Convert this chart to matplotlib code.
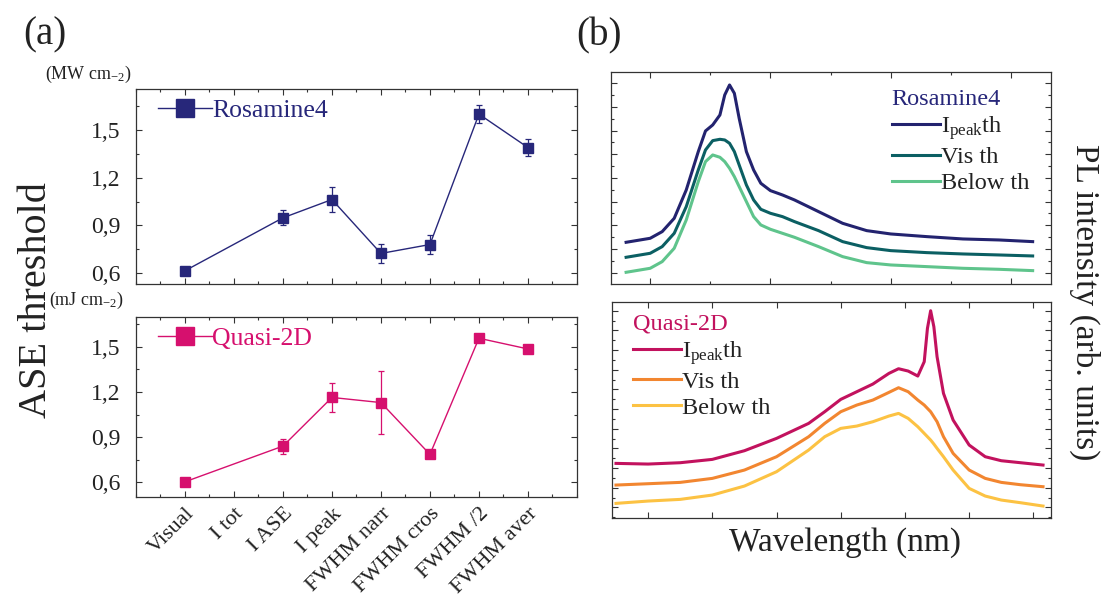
import matplotlib
matplotlib.use('Agg')
import matplotlib.pyplot as plt
from matplotlib.ticker import MultipleLocator, FixedLocator, FuncFormatter
from matplotlib.lines import Line2D

plt.rcParams['font.family'] = ['Liberation Serif', 'DejaVu Serif']
plt.rcParams['mathtext.fontset'] = 'custom'
plt.rcParams['mathtext.rm'] = 'Liberation Serif'
plt.rcParams['mathtext.it'] = 'Liberation Serif:italic'

# ---------------- data (a) ----------------
categories = ['Visual', 'I tot', 'I ASE', 'I peak', 'FWHM narr', 'FWHM cros', 'FWHM /2', 'FWHM aver']
point_cats = ['Visual', 'I ASE', 'I peak', 'FWHM narr', 'FWHM cros', 'FWHM /2', 'FWHM aver']
ros_vals = [0.615, 0.948, 1.063, 0.724, 0.780, 1.600, 1.390]
ros_err = [0.0, 0.047, 0.080, 0.060, 0.057, 0.056, 0.053]
q2d_vals = [0.604, 0.841, 1.164, 1.130, 0.786, 1.557, 1.486]
q2d_err = [0.0, 0.050, 0.095, 0.210, 0.015, 0.0, 0.0]
yticks_a = [0.6, 0.9, 1.2, 1.5]

# ---------------- data (b) ----------------
ros_wl = [540, 550, 555, 560, 565, 570, 573, 576, 579, 581, 583, 585, 587, 590,
          593, 596, 600, 605, 610, 620, 630, 640, 650, 665, 680, 695, 709]
ros_ipeak = [162, 174, 194, 234, 319, 434, 496, 514, 544, 604, 634, 609, 534, 434,
             379, 339, 317, 304, 289, 254, 219, 197, 187, 179, 172, 169, 164]
ros_vis = [117, 129, 149, 189, 269, 379, 439, 467, 471, 469, 459, 434, 394, 334,
           289, 261, 249, 239, 224, 197, 164, 146, 137, 131, 127, 124, 121]
ros_below = [72, 84, 104, 144, 229, 344, 404, 424, 417, 404, 384, 359, 329, 284,
             239, 214, 201, 189, 177, 149, 119, 101, 94, 89, 84, 81, 77]

q2d_wl = [430, 440, 450, 460, 470, 480, 490, 495, 500, 505, 510, 515, 518, 521,
          524, 526, 527, 528, 529, 530, 532, 535, 540, 545, 550, 556, 563]
q2d_ipeak = [191, 189, 193, 203, 229, 266, 311, 346, 383, 406, 429, 461, 475, 468,
             453, 496, 596, 649, 601, 511, 401, 321, 246, 211, 199, 193, 186]
q2d_vis = [126, 130, 134, 146, 171, 211, 271, 311, 346, 366, 381, 404, 418, 406,
           381, 366, 356, 346, 331, 316, 271, 221, 171, 146, 134, 127, 121]
q2d_below = [71, 78, 83, 96, 123, 166, 231, 271, 296, 303, 316, 333, 341, 326,
             301, 281, 271, 261, 249, 236, 211, 171, 116, 93, 81, 73, 63]

NAVY = '#27277a'
MAGENTA = '#d6106e'
C_ROS = ['#23236f', '#0b5f63', '#5fc48c']
C_Q2D = ['#c2125e', '#f28630', '#fcc243']
SPINE = '#333333'

fig = plt.figure(figsize=(11.08, 5.97), dpi=100)

def style_axes(ax):
    for s in ax.spines.values():
        s.set_linewidth(0.9)
        s.set_color(SPINE)
    ax.tick_params(which='both', direction='in', top=True, right=True, color=SPINE)
    ax.tick_params(which='major', length=4, width=0.8)
    ax.tick_params(which='minor', length=2.5, width=0.8)

comma = FuncFormatter(lambda v, p: ('%.1f' % v).replace('.', ','))
x_pts = [categories.index(c) for c in point_cats]

ax1 = fig.add_axes([0.1227, 0.5238, 0.398, 0.3266])
ax2 = fig.add_axes([0.1227, 0.1667, 0.398, 0.3028])

for ax, vals, err, col, lab, ylim, anc in [
        (ax1, ros_vals, ros_err, NAVY, 'Rosamine4', (0.53, 1.756), (0.05, 0.95)),
        (ax2, q2d_vals, q2d_err, MAGENTA, 'Quasi-2D', (0.5, 1.7), (0.05, 0.945))]:
    ax.errorbar(x_pts, vals, yerr=err, fmt='s-', color=col, ms=7, lw=1.0,
                elinewidth=0.9, capsize=2.5, capthick=0.9)
    ax.set_xlim(-1, 8)
    ax.set_ylim(*ylim)
    ax.xaxis.set_major_locator(FixedLocator(list(range(len(categories)))))
    ax.xaxis.set_minor_locator(MultipleLocator(0.5))
    ax.yaxis.set_major_locator(FixedLocator(yticks_a))
    ax.yaxis.set_minor_locator(MultipleLocator(0.15))
    ax.yaxis.set_major_formatter(comma)
    style_axes(ax)
    ax.tick_params(axis='y', labelsize=17, pad=11, labelcolor='#222222')
    h = Line2D([], [], color=col, marker='s', ms=13, lw=1.0)
    leg = ax.legend([h], [lab], loc='upper left', bbox_to_anchor=anc,
                    frameon=False, fontsize=18.5, handlelength=2.1, handletextpad=0.02,
                    borderpad=0, borderaxespad=0)
    for t in leg.get_texts():
        t.set_color(col)

ax1.tick_params(axis='x', labelbottom=False)
ax2.set_xticks(range(len(categories)))
ax2.set_xticklabels(categories, rotation=45, ha='right', va='top',
                    rotation_mode='anchor', fontsize=16, color='#222222')
ax2.tick_params(axis='x', pad=5)

fig.text(0.0406, 0.9414, '(a)', fontsize=28, ha='center', va='center', color='#222222')
fig.text(0.5406, 0.9397, '(b)', fontsize=28, ha='center', va='center', color='#222222')
fig.text(0.033, 0.497, 'ASE threshold', fontsize=29, rotation=90, ha='center', va='center', color='#222222')
fig.text(0.119, 0.876, r'(MW cm$_{\mathregular{-2}}$)', fontsize=13, ha='right', va='center', color='#222222')
fig.text(0.112, 0.496, r'(mJ cm$_{\mathregular{-2}}$)', fontsize=13, ha='right', va='center', color='#222222')

# ---------------- (b) ----------------
ax3 = fig.add_axes([0.5514, 0.5238, 0.3971, 0.3551])
ax4 = fig.add_axes([0.5519, 0.1328, 0.3967, 0.3618])

lbls = [r'I$_{\mathregular{peak}}$th', 'Vis th', 'Below th']
for ys, c, l in zip([ros_ipeak, ros_vis, ros_below], C_ROS, lbls):
    ax3.plot(ros_wl, ys, color=c, lw=2.2, label=l)
ax3.set_xlim(533.7, 716.6)
ax3.set_ylim(36, 672)
ax3.xaxis.set_major_locator(MultipleLocator(50))
ax3.xaxis.set_minor_locator(MultipleLocator(25))
ax3.yaxis.set_major_locator(MultipleLocator(71))
ax3.yaxis.set_minor_locator(MultipleLocator(35.5))

for ys, c, l in zip([q2d_ipeak, q2d_vis, q2d_below], C_Q2D, lbls):
    ax4.plot(q2d_wl, ys, color=c, lw=2.2, label=l)
ax4.set_xlim(428.6, 565.5)
ax4.set_ylim(28, 676)
ax4.xaxis.set_major_locator(MultipleLocator(20))
ax4.yaxis.set_major_locator(MultipleLocator(59))
ax4.yaxis.set_minor_locator(MultipleLocator(29.5))

for ax, title, tcol, anchor in [(ax3, 'Rosamine4', NAVY, (0.638, 0.92)),
                                (ax4, 'Quasi-2D', '#c2125e', (0.048, 0.945))]:
    style_axes(ax)
    ax.tick_params(labelbottom=False, labelleft=False)
    leg = ax.legend(loc='upper left', bbox_to_anchor=anchor, frameon=False, fontsize=17.5,
                    title=title, title_fontsize=17.5, alignment='left',
                    handlelength=2.0, handletextpad=0.05, labelspacing=0.17,
                    borderpad=0, borderaxespad=0)
    leg.get_title().set_color(tcol)
    for t in leg.get_texts():
        t.set_color('#222222')

fig.text(0.7627, 0.0905, 'Wavelength (nm)', fontsize=24, ha='center', va='center', color='#222222')
fig.text(0.979, 0.494, 'PL intensity (arb. units)', fontsize=24, rotation=270,
         ha='center', va='center', color='#222222')

fig.savefig('out.png', dpi=100)
